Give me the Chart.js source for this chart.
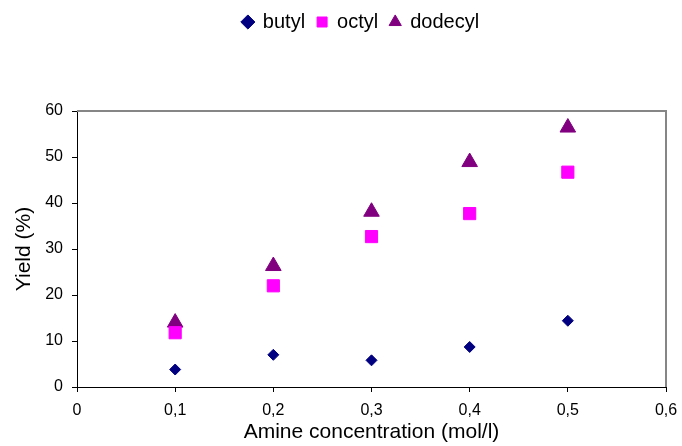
<!DOCTYPE html>
<html>
<head>
<meta charset="utf-8">
<title>Yield vs amine concentration</title>
<script src="https://cdn.jsdelivr.net/npm/chart.js"></script>
<style>
    html, body { margin: 0; padding: 0; background: #fff; }
    #wrap { width: 682px; height: 446px; }
</style>
</head>
<body>
<div id="wrap"><canvas id="yieldChart" width="682" height="446"></canvas></div>
<script>
// ============================================
// 1. データ
// ============================================

const concentrations = [0.1, 0.2, 0.3, 0.4, 0.5];
const butylYield = [3.8, 7.0, 5.8, 8.7, 14.4];
const octylYield = [11.8, 22.0, 32.7, 37.7, 46.7];
const dodecylYield = [14.0, 26.3, 38.1, 48.9, 56.4];

const xTickLabels = ['0', '0,1', '0,2', '0,3', '0,4', '0,5', '0,6'];
const yTickLabels = ['0', '10', '20', '30', '40', '50', '60'];

const FONT = '"Liberation Sans", Arial, sans-serif';

function toPoints(values) {
    return concentrations.map((c, i) => ({ x: c, y: values[i] }));
}

// ============================================
// 2. プロットエリアの枠（上と右は灰色）
// ============================================

const plotFrame = {
    id: 'plotFrame',
    beforeDatasetsDraw(chart) {
        const { ctx, chartArea: a } = chart;
        ctx.save();
        ctx.strokeStyle = '#868686';
        ctx.lineWidth = 2;
        ctx.beginPath();
        ctx.moveTo(a.left, a.top);
        ctx.lineTo(a.right, a.top);
        ctx.lineTo(a.right, a.bottom);
        ctx.stroke();
        ctx.restore();
    }
};

// ============================================
// 3. チャート
// ============================================

const ctx = document.getElementById('yieldChart').getContext('2d');
const yieldChart = new Chart(ctx, {
    type: 'scatter',
    data: {
        datasets: [
            {
                label: 'butyl',
                data: toPoints(butylYield),
                pointStyle: 'rectRot',
                pointRadius: 5.5,
                backgroundColor: '#000080',
                borderColor: '#000080',
                borderWidth: 1
            },
            {
                label: 'octyl',
                data: toPoints(octylYield),
                pointStyle: 'rect',
                pointRadius: 8.6,
                backgroundColor: '#FF00FF',
                borderColor: '#FF00FF',
                borderWidth: 1
            },
            {
                label: 'dodecyl',
                data: toPoints(dodecylYield),
                pointStyle: 'triangle',
                pointRadius: 9,
                backgroundColor: '#800080',
                borderColor: '#800080',
                borderWidth: 1
            }
        ]
    },
    options: {
        responsive: false,
        animation: false,
        layout: { padding: { left: 40, right: 0, top: 0, bottom: 0 } },
        plugins: {
            legend: {
                display: true,
                position: 'top',
                labels: {
                    usePointStyle: true,
                    boxWidth: 10,
                    boxHeight: 10,
                    padding: 12,
                    color: '#000',
                    font: { family: FONT, size: 20 }
                }
            },
            // 凡例とグラフの間の余白
            subtitle: {
                display: true,
                text: '',
                weight: 500,
                padding: { top: 59, bottom: 0 },
                font: { size: 10, lineHeight: 1 }
            },
            tooltip: { enabled: false }
        },
        scales: {
            x: {
                type: 'linear',
                position: 'bottom',
                min: 0,
                max: 0.6,
                afterFit(scale) { scale.height = 59; },
                ticks: {
                    stepSize: 0.1,
                    padding: 2,
                    color: '#000',
                    font: { family: FONT, size: 16, lineHeight: 2.1 },
                    callback: (value, index) => xTickLabels[index]
                },
                grid: { drawOnChartArea: false, tickLength: 5, color: '#000' },
                border: { display: true, color: '#000', width: 1 },
                title: {
                    display: true,
                    text: 'Amine concentration (mol/l)',
                    color: '#000',
                    padding: { top: 0, bottom: 3 },
                    font: { family: FONT, size: 21, lineHeight: 1 }
                }
            },
            y: {
                type: 'linear',
                position: 'left',
                min: 0,
                max: 60,
                afterFit(scale) { scale.width = 37; },
                ticks: {
                    stepSize: 10,
                    padding: 9,
                    color: '#000',
                    font: { family: FONT, size: 16 },
                    callback: (value, index) => yTickLabels[index]
                },
                grid: { drawOnChartArea: false, tickLength: 5, color: '#000' },
                border: { display: true, color: '#000', width: 1 },
                title: {
                    display: true,
                    text: 'Yield (%)',
                    color: '#000',
                    padding: { top: -26, bottom: 0 },
                    font: { family: FONT, size: 21, lineHeight: 1 }
                }
            },
            // 右側の余白用（表示なし）
            yRight: {
                type: 'linear',
                position: 'right',
                min: 0,
                max: 60,
                afterFit(scale) { scale.width = 16; },
                ticks: { display: false },
                grid: { display: false },
                border: { display: false }
            }
        }
    },
    plugins: [plotFrame]
});

console.log('chart area', JSON.stringify(yieldChart.chartArea));
</script>
</body>
</html>
